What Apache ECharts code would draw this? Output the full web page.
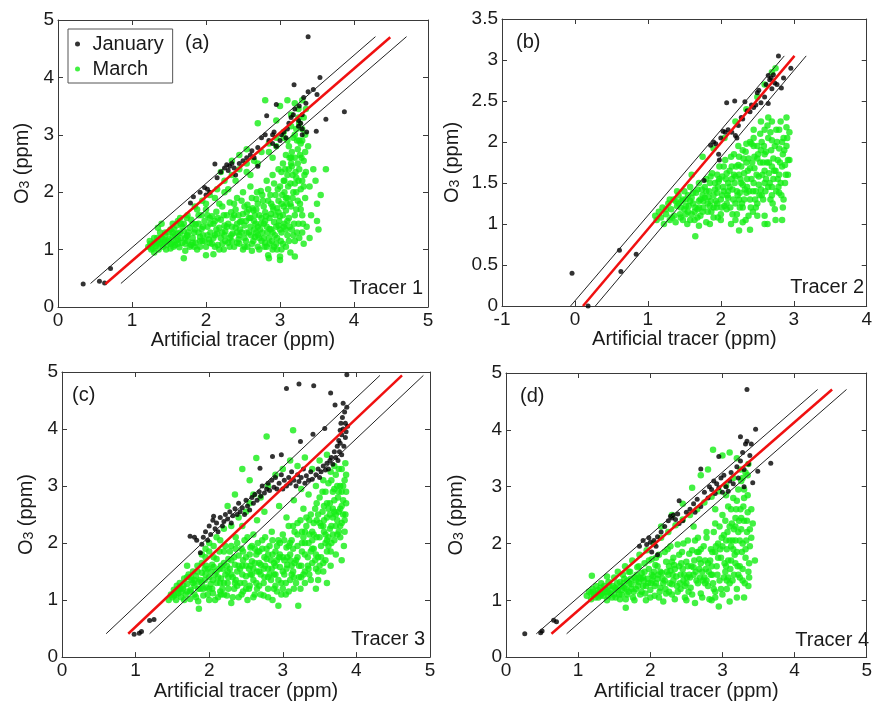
<!DOCTYPE html>
<html>
<head>
<meta charset="UTF-8">
<script type="text/javascript" src="https://cdn.jsdelivr.net/npm/echarts@6/dist/echarts.min.js"></script>
<title></title>
<style>
  body { margin: 0; background: #fff; }
  #graph { width: 875px; height: 702px; }
</style>
</head>
<body>
<div id="graph"></div>
<script>
// panel (a), tracer 1
var janA = [[0.34,0.4],[0.56,0.45],[0.63,0.42],[0.71,0.67],[1.79,1.81],[1.83,1.92],[1.92,2.0],[1.98,2.08],[2.0,1.95],[2.02,2.05],[2.05,2.0],
  [2.12,2.49],[2.15,2.25],[2.2,2.35],[2.25,2.42],[2.28,2.48],[2.3,2.38],[2.32,2.45],[2.35,2.5],[2.38,2.42],[2.4,2.3],[2.45,2.5],[2.5,2.55],
  [2.55,2.6],[2.6,2.65],[2.62,2.72],[2.65,2.6],[2.7,2.78],[2.7,2.45],[2.75,2.95],[2.8,3.0],[2.82,3.33],[2.85,2.9],[2.9,2.85],[2.9,3.0],[2.92,3.05],
  [2.95,2.8],[2.95,3.53],[3.0,2.9],[3.02,3.0],[3.05,3.05],[3.08,2.95],[3.1,3.1],[3.12,3.2],[3.15,3.3],[3.18,3.35],[3.19,3.87],[3.2,3.45],
  [3.25,3.25],[3.25,3.15],[3.26,3.5],[3.28,3.2],[3.3,3.35],[3.3,3.1],[3.3,3.0],[3.32,3.65],[3.35,3.55],[3.36,3.05],[3.38,3.75],[3.38,4.71],
  [3.45,3.79],[3.49,3.06],[3.5,3.7],[3.54,4.0],[3.62,3.27],[3.87,3.4]];
var marA = [[1.22,1.05],[1.25,1.1],[1.28,1.02],[1.3,1.12],[1.3,0.95],[1.32,1.06],[1.35,1.15],[1.35,1.38],[1.36,1.0],[1.38,1.1],[1.4,1.2],[1.4,1.45],
  [1.42,1.05],[1.44,1.14],[1.45,1.25],[1.47,1.08],[1.5,1.18],[1.5,1.3],[1.52,1.02],[1.54,1.12],[1.55,1.22],[1.55,1.45],[1.57,1.35],[1.58,1.08],
  [1.6,1.16],[1.6,1.42],[1.62,1.28],[1.64,1.04],[1.65,1.55],[1.66,1.2],[1.68,1.12],[1.7,1.32],[1.7,1.45],[1.7,0.85],[1.72,0.98],[1.74,1.24],
  [1.75,1.15],[1.75,1.6],[1.78,1.38],[1.8,1.08],[1.8,1.52],[1.82,1.2],[1.84,1.3],[1.85,1.75],[1.86,1.44],[1.88,1.0],[1.9,1.6],[1.92,1.15],
  [1.94,1.36],[1.95,1.85],[1.96,1.25],[1.98,1.5],[2.0,1.05],[2.0,1.7],[2.0,0.9],[2.02,1.4],[2.04,1.18],[2.05,1.95],[2.06,1.3],[2.08,1.58],
  [2.1,0.92],[2.1,1.45],[2.12,1.25],[2.14,1.66],[2.15,2.05],[2.16,1.08],[2.18,1.38],[2.2,1.52],[2.2,1.2],[2.2,2.35],[2.22,1.75],[2.24,1.0],
  [2.25,2.2],[2.26,1.32],[2.28,1.6],[2.3,1.45],[2.3,1.12],[2.3,2.05],[2.32,1.82],[2.34,1.25],[2.35,2.3],[2.35,2.55],[2.36,1.55],[2.38,1.05],
  [2.4,1.38],[2.4,1.7],[2.42,1.9],[2.44,1.18],[2.45,2.4],[2.45,2.65],[2.46,1.48],[2.48,1.3],[2.5,1.62],[2.5,1.0],[2.5,2.0],[2.52,1.42],
  [2.54,1.15],[2.55,2.5],[2.55,2.75],[2.56,1.78],[2.58,1.3],[2.6,1.55],[2.6,2.1],[2.6,2.3],[2.62,0.98],[2.64,1.68],[2.65,2.55],[2.66,1.22],
  [2.68,1.88],[2.7,1.4],[2.7,1.05],[2.7,3.2],[2.72,1.6],[2.74,2.02],[2.75,2.7],[2.76,1.3],[2.78,1.75],[2.8,1.12],[2.8,1.5],[2.8,3.6],
  [2.82,2.2],[2.84,0.9],[2.84,1.85],[2.85,2.85],[2.85,0.85],[2.86,1.36],[2.88,1.62],[2.9,1.0],[2.9,2.3],[2.9,2.6],[2.92,1.48],[2.94,1.95],
  [2.95,2.95],[2.95,3.25],[2.96,1.2],[2.96,1.72],[2.98,2.4],[3.0,0.88],[3.0,1.35],[3.0,1.58],[3.0,2.1],[3.0,3.5],[3.0,0.82],[3.02,1.8],
  [3.04,1.1],[3.04,2.5],[3.05,3.05],[3.06,1.45],[3.06,2.0],[3.08,1.68],[3.08,2.65],[3.1,1.25],[3.1,1.9],[3.1,2.3],[3.1,2.9],[3.1,3.6],
  [3.12,1.55],[3.12,2.8],[3.14,0.95],[3.14,2.15],[3.15,1.75],[3.15,3.15],[3.16,2.45],[3.16,1.35],[3.18,2.0],[3.18,2.95],[3.2,1.6],[3.2,2.6],
  [3.2,1.15],[3.2,0.88],[3.2,3.55],[3.22,2.25],[3.22,3.1],[3.24,1.85],[3.24,2.75],[3.25,1.45],[3.25,3.3],[3.26,2.4],[3.26,3.2],[3.28,2.05],
  [3.28,1.7],[3.3,2.9],[3.3,2.2],[3.3,1.3],[3.3,3.6],[3.32,2.55],[3.32,3.3],[3.34,1.9],[3.35,2.35],[3.35,3.45],[3.38,2.8],[3.4,2.1],
  [3.4,1.2],[3.42,1.6],[3.45,2.4],[3.48,2.2],[3.5,1.8],[3.5,1.5],[3.52,1.35],[3.55,1.95],[3.62,2.4],[1.9,1.3],[2.12,1.5],[2.35,1.4],
  [2.55,1.65],[2.75,1.55],[2.9,1.75],[3.05,2.2],[3.15,2.6],[3.22,2.0],[3.08,1.35],[2.95,1.1],[2.65,1.5],[2.45,1.25],[2.25,1.42],[2.05,1.55],
  [1.58,1.25],[1.62,1.1],[1.68,1.4],[1.72,1.2],[1.78,1.05],[1.82,1.45],[1.86,1.12],[1.9,1.45],[1.92,1.05],[1.96,1.4],[1.98,1.15],[2.02,1.6],
  [2.06,1.45],[2.08,1.1],[2.14,1.35],[2.16,1.55],[2.18,1.0],[2.22,1.3],[2.24,1.6],[2.26,1.15],[2.28,1.4],[2.32,1.05],[2.34,1.65],[2.36,1.28],
  [2.38,1.8],[2.42,1.12],[2.44,1.6],[2.46,1.35],[2.48,1.85],[2.52,1.2],[2.54,1.5],[2.56,1.05],[2.58,1.7],[2.6,1.4],[2.62,1.9],[2.64,1.15],
  [2.66,1.6],[2.68,1.3],[2.7,1.8],[2.72,1.0],[2.74,1.45],[2.76,1.95],[2.78,1.2],[2.8,1.65],[2.82,1.4],[2.84,2.05],[2.86,1.1],[2.88,1.8],
  [2.9,1.3],[2.92,2.15],[2.94,1.6],[2.96,1.0],[2.98,1.85],[3.02,1.3],[3.02,2.35],[3.04,1.6],[3.06,2.2],[3.08,1.05],[3.1,1.5],[3.12,2.4],
  [3.14,1.8],[3.16,2.7],[3.18,1.25],[3.2,2.15],[3.22,1.7],[3.24,2.5],[3.26,1.2],[3.28,2.85],[3.3,1.6],[3.32,2.1],[3.34,2.7],[3.36,1.4],
  [3.34,3.0],[3.3,3.1],[3.26,2.9],[3.2,3.0],[3.32,1.1],[3.12,1.15],[2.98,1.42],[2.86,1.55],[2.7,1.25],[2.52,1.75],[2.42,1.45],[2.18,1.8],
  [2.1,1.2],[1.94,1.6],[1.84,1.05],[1.76,1.3],[1.66,1.45],[1.56,1.05],[1.46,1.0],[1.4,1.1],[1.34,1.2],[1.26,1.0],[1.33,1.1],[1.48,1.15],
  [1.52,1.35],[1.62,1.5],[1.74,1.55],[1.88,1.7],[2.0,1.8],[2.12,1.9],[2.25,2.0],[2.4,2.2],[2.55,2.35],[2.7,2.5],[2.85,2.7],[2.95,2.8],
  [3.05,2.95],[3.15,3.35],[3.25,3.45],
  [2.61,1.25],[2.63,1.72],[2.67,1.45],[2.69,2.0],[2.73,1.35],[2.77,1.85],[2.79,1.05],[2.81,1.58],[2.83,1.3],[2.87,1.95],[2.89,1.15],
  [2.91,1.7],[2.93,1.25],[2.97,2.05],[2.99,1.5],[3.01,1.15],[3.03,1.95],[3.05,1.4],[3.07,2.4],[3.09,1.8],[3.11,2.1],[3.13,1.4],[3.15,2.5],
  [3.17,1.9],[3.19,1.45],[3.21,2.35],[3.23,1.3],[3.25,2.2],[3.27,1.8],[3.29,2.6],[3.31,1.45],[3.33,2.3],[3.27,2.65],[3.23,2.9],[3.17,2.3],
  [3.13,2.6],[3.05,1.75],[2.95,1.4],[2.85,1.2],[2.75,1.15],[2.65,1.35],[2.55,1.3],[2.45,1.1],[2.35,1.15],[2.25,1.25],[2.15,1.28],[2.05,1.12],
  [1.95,1.15],[1.85,1.35],[1.75,1.25],[1.65,1.3],[1.55,1.3],[1.45,1.3],[1.38,1.3],[1.3,1.2],[1.24,1.15],[1.42,1.18],[1.52,1.1],[1.62,1.18],
  [1.72,1.1],[1.82,1.12],[1.92,1.22],[2.02,1.25],[2.12,1.05],[2.22,1.1],[2.32,1.2],[2.42,1.3],[2.52,1.05],[2.62,1.1],[2.72,1.2],[2.82,1.05],
  [2.92,1.05],[3.02,1.0],[2.48,1.5],[2.38,1.6],[2.58,1.55],[2.68,1.7],[2.78,1.45],[2.88,1.35],[2.98,1.65],[3.08,1.9]];
var fitA = [[0.64,0.4],[4.49,4.7]];
var upA = [[0.44,0.41],[4.29,4.71]];
var lowA = [[0.85,0.41],[4.71,4.71]];

// panel (b), tracer 2
var janB = [[-0.04,0.4],[0.18,0.0],[0.61,0.68],[0.63,0.42],[0.84,0.63],[1.77,1.53],[1.86,1.96],[1.9,2.0],[1.93,1.98],[1.97,1.85],[1.98,1.78],
  [2.0,2.05],[2.03,2.13],[2.06,2.12],[2.08,2.48],[2.1,2.15],[2.15,2.12],[2.19,2.5],[2.2,2.08],[2.22,2.05],[2.24,2.2],[2.28,2.3],[2.3,2.28],
  [2.33,2.49],[2.36,2.38],[2.4,2.37],[2.42,2.45],[2.45,2.42],[2.48,2.45],[2.5,2.6],[2.52,2.63],[2.55,2.48],[2.6,2.55],[2.62,2.7],[2.65,2.81],
  [2.65,2.47],[2.67,2.76],[2.69,2.78],[2.7,2.65],[2.72,2.82],[2.74,2.72],[2.77,2.7],[2.79,3.05],[2.83,2.66],[2.86,2.78],[2.96,2.9]];
var marB = [[1.1,1.1],[1.12,1.05],[1.15,1.15],[1.18,1.08],[1.2,1.2],[1.22,1.0],[1.25,1.12],[1.28,1.25],[1.3,1.05],[1.3,1.3],[1.32,1.18],
  [1.35,1.3],[1.36,1.1],[1.38,1.02],[1.4,1.22],[1.4,1.4],[1.42,1.35],[1.44,1.12],[1.45,1.2],[1.46,1.28],[1.48,1.05],[1.5,1.4],[1.5,1.18],
  [1.52,1.3],[1.54,1.0],[1.55,1.15],[1.56,1.22],[1.58,1.45],[1.6,1.12],[1.6,1.32],[1.6,1.6],[1.62,1.25],[1.64,1.05],[1.65,1.2],[1.65,0.85],
  [1.66,1.38],[1.68,1.18],[1.7,1.5],[1.7,1.28],[1.72,1.1],[1.74,1.42],[1.75,1.35],[1.75,1.82],[1.76,1.2],[1.78,1.32],[1.8,1.02],[1.8,1.55],
  [1.82,1.15],[1.84,1.4],[1.85,1.5],[1.86,1.28],[1.88,1.62],[1.9,1.08],[1.9,1.35],[1.9,1.92],[1.92,1.5],[1.94,1.2],[1.95,1.6],[1.96,1.45],
  [1.98,1.7],[2.0,1.3],[2.0,1.05],[2.02,1.58],[2.04,1.4],[2.05,1.22],[2.05,2.05],[2.06,1.78],[2.08,1.18],[2.1,1.5],[2.1,1.32],[2.1,1.4],
  [2.12,1.65],[2.14,1.0],[2.15,1.7],[2.15,1.55],[2.16,1.42],[2.18,1.85],[2.2,1.25],[2.2,1.58],[2.2,2.25],[2.22,1.12],[2.24,1.72],[2.25,1.3],
  [2.25,0.92],[2.26,1.38],[2.28,1.5],[2.3,1.9],[2.3,1.2],[2.3,1.48],[2.32,1.62],[2.34,1.05],[2.35,1.75],[2.35,1.38],[2.35,2.4],[2.36,1.45],
  [2.38,1.8],[2.4,1.3],[2.4,2.0],[2.4,0.93],[2.42,1.55],[2.44,1.15],[2.45,1.5],[2.45,2.15],[2.46,1.68],[2.48,1.4],[2.5,1.95],[2.5,1.25],
  [2.5,1.8],[2.5,2.55],[2.52,1.58],[2.54,2.1],[2.55,1.9],[2.55,1.42],[2.55,2.25],[2.56,1.35],[2.58,1.75],[2.6,1.5],[2.6,1.1],[2.6,1.65],
  [2.6,2.7],[2.62,1.88],[2.64,2.2],[2.65,1.45],[2.65,2.3],[2.66,1.62],[2.68,1.3],[2.7,2.02],[2.7,1.45],[2.7,1.7],[2.7,2.85],[2.72,1.8],
  [2.74,1.18],[2.75,1.65],[2.75,1.05],[2.75,2.9],[2.76,2.15],[2.78,1.55],[2.8,1.92],[2.8,1.38],[2.8,1.6],[2.82,2.25],[2.84,1.7],[2.85,1.85],
  [2.85,1.2],[2.86,2.05],[2.88,1.5],[2.9,2.3],[2.9,1.95],[2.92,1.78],[2.94,2.12],[2.94,1.78],[1.95,1.25],[2.45,1.95],[2.65,2.05],[2.25,1.6],
  [1.25,1.18],[1.33,1.08],[1.38,1.28],[1.45,1.08],[1.52,1.22],[1.58,1.05],[1.62,1.38],[1.68,1.08],[1.72,1.3],[1.78,1.45],[1.82,1.25],
  [1.86,1.58],[1.9,1.2],[1.92,1.42],[1.96,1.08],[1.98,1.55],[2.02,1.35],[2.04,1.7],[2.08,1.25],[2.12,1.45],[2.14,1.82],[2.16,1.12],
  [2.18,1.6],[2.22,1.4],[2.24,1.95],[2.26,1.2],[2.28,1.7],[2.32,1.3],[2.34,1.88],[2.36,1.55],[2.38,1.1],[2.4,1.68],[2.42,1.98],[2.44,1.4],
  [2.46,1.82],[2.48,1.2],[2.52,1.48],[2.54,1.75],[2.56,2.0],[2.58,1.3],[2.6,1.85],[2.62,1.55],[2.64,1.0],[2.66,1.75],[2.68,2.12],[2.7,1.35],
  [2.72,1.55],[2.74,1.95],[2.76,1.4],[2.78,1.78],[2.82,1.5],[2.84,2.0],[2.86,1.3],[2.88,1.72],[2.9,2.18],[2.92,1.6],[2.84,1.05],[2.6,1.0],
  [2.5,1.1],[2.3,1.02],[2.2,1.05],[2.0,1.12],[1.85,1.0],[1.7,0.98],[2.8,2.15],[2.7,2.25],[2.6,2.15],[2.45,2.05],[2.35,1.98],[2.25,1.82],
  [2.08,1.62],[1.95,1.38],[1.85,1.22],[1.75,1.15],
  [1.83,1.33],[1.87,1.15],[1.93,1.28],[1.97,1.52],[2.01,1.2],[2.03,1.45],[2.07,1.55],[2.09,1.35],[2.13,1.2],[2.17,1.3],[2.19,1.5],
  [2.21,1.7],[2.23,1.35],[2.27,1.55],[2.29,1.25],[2.31,1.8],[2.33,1.42],[2.37,1.65],[2.39,1.4],[2.41,1.2],[2.43,1.75],[2.47,1.3],
  [2.49,1.6],[2.51,1.85],[2.53,1.35],[2.57,1.6],[2.59,1.95],[2.61,1.4],[2.63,1.75],[2.67,1.5],[2.69,1.9],[2.71,1.25],[2.73,1.65],
  [2.77,2.0],[2.79,1.45],[2.81,1.75],[2.83,1.35],[2.87,1.9],[2.89,1.6],[2.91,2.05],[1.52,1.12],[1.58,1.28],[1.64,1.15],[1.7,1.2],
  [1.76,1.28],[1.8,1.4],[1.68,1.42],[1.55,1.35],[1.48,1.3],[1.42,1.25]];
var fitB = [[0.11,0],[3.01,3.05]];
var upB = [[-0.06,0],[2.87,3.05]];
var lowB = [[0.28,0],[3.17,3.05]];

// panel (c), tracer 3
var janC = [[0.98,0.4],[1.05,0.42],[1.08,0.45],[1.19,0.64],[1.25,0.66],[1.74,2.12],[1.8,2.1],[1.83,2.05],[1.88,1.83],[1.9,1.98],[1.92,2.1],
  [1.95,2.2],[1.98,2.05],[2.0,2.3],[2.02,2.15],[2.05,2.4],[2.06,2.47],[2.08,2.25],[2.1,2.35],[2.12,2.2],[2.15,2.45],[2.18,2.3],[2.2,2.38],
  [2.22,2.5],[2.25,2.42],[2.28,2.55],[2.3,2.35],[2.32,2.48],[2.35,2.6],[2.38,2.5],[2.4,2.7],[2.42,2.55],[2.45,2.62],[2.48,2.5],[2.5,2.75],
  [2.52,2.65],[2.55,2.58],[2.58,2.8],[2.6,2.7],[2.62,2.85],[2.65,2.75],[2.68,2.9],[2.69,3.31],[2.7,2.82],[2.72,3.0],[2.75,2.88],[2.78,2.95],
  [2.8,3.05],[2.82,2.92],[2.85,3.1],[2.86,3.52],[2.88,2.98],[2.9,3.15],[2.92,2.95],[2.95,3.05],[2.98,3.55],[2.98,3.2],[3.0,2.95],[3.02,3.1],
  [3.05,3.0],[3.05,4.71],[3.08,3.15],[3.1,3.05],[3.12,3.25],[3.15,3.1],[3.18,3.0],[3.2,3.2],[3.22,3.08],[3.22,4.79],[3.24,3.78],[3.25,3.15],
  [3.28,3.3],[3.3,3.05],[3.32,3.18],[3.35,3.1],[3.38,3.25],[3.4,3.12],[3.41,3.91],[3.42,4.76],[3.45,3.2],[3.48,3.3],[3.5,3.15],[3.52,3.25],
  [3.55,3.35],[3.57,4.01],[3.58,3.28],[3.6,3.4],[3.62,3.3],[3.64,3.45],[3.65,4.63],[3.66,3.5],[3.68,3.38],[3.7,3.6],[3.71,4.42],[3.72,3.5],
  [3.74,3.7],[3.75,3.45],[3.76,3.8],[3.77,3.6],[3.78,3.98],[3.78,3.75],[3.79,4.1],[3.8,3.55],[3.8,3.9],[3.81,4.2],[3.82,4.0],[3.82,4.45],
  [3.83,3.7],[3.84,4.3],[3.85,3.85],[3.85,4.1],[3.86,3.95],[3.87,4.95],[3.87,4.38],[3.88,4.05]];
var marC = [[1.45,1.0],[1.48,1.1],[1.5,1.05],[1.52,1.18],[1.55,1.0],[1.56,1.25],[1.58,1.12],[1.6,1.3],[1.62,1.05],[1.64,1.2],[1.66,1.38],
  [1.68,1.1],[1.7,1.28],[1.72,1.45],[1.74,1.02],[1.75,1.18],[1.76,1.35],[1.78,1.5],[1.8,1.1],[1.8,1.25],[1.82,1.42],[1.84,1.6],[1.85,0.98],
  [1.86,1.32],[1.86,0.85],[1.88,1.2],[1.9,1.48],[1.9,1.65],[1.92,1.08],[1.94,1.35],[1.95,1.75],[1.95,1.9],[1.96,1.22],[1.98,1.55],[2.0,1.0],
  [2.0,1.4],[2.0,1.85],[2.0,2.0],[2.02,1.28],[2.04,1.62],[2.05,1.12],[2.06,1.95],[2.08,1.45],[2.1,1.3],[2.1,1.72],[2.1,2.1],[2.12,1.05],
  [2.14,1.55],[2.15,2.05],[2.16,1.38],[2.18,1.2],[2.2,1.65],[2.2,1.85],[2.2,2.25],[2.22,1.45],[2.24,1.08],[2.25,1.3],[2.25,2.65],[2.26,1.72],
  [2.28,1.55],[2.3,0.95],[2.3,1.95],[2.3,2.3],[2.32,1.4],[2.34,1.2],[2.35,1.62],[2.35,2.85],[2.36,2.1],[2.38,1.5],[2.4,1.05],[2.4,1.78],
  [2.4,2.45],[2.42,1.3],[2.44,1.9],[2.45,1.6],[2.45,3.3],[2.45,2.3],[2.46,1.15],[2.48,2.05],[2.5,1.42],[2.5,1.75],[2.5,2.55],[2.52,1.0],
  [2.54,1.55],[2.55,1.25],[2.55,2.7],[2.55,3.1],[2.56,1.92],[2.58,1.68],[2.6,1.35],[2.6,2.15],[2.6,2.85],[2.62,1.1],[2.64,1.8],[2.64,3.49],
  [2.65,1.5],[2.65,2.4],[2.66,2.0],[2.68,1.25],[2.7,1.62],[2.7,2.8],[2.72,1.9],[2.74,1.08],[2.75,1.4],[2.75,2.55],[2.76,2.1],[2.78,1.72],
  [2.78,3.87],[2.8,1.2],[2.8,1.55],[2.8,3.0],[2.82,1.95],[2.84,1.35],[2.85,2.2],[2.86,1.0],[2.88,1.65],[2.9,1.45],[2.9,1.85],[2.9,3.2],
  [2.92,1.15],[2.94,0.9],[2.94,2.05],[2.95,2.65],[2.96,1.58],[2.98,1.3],[3.0,1.75],[3.0,2.15],[3.0,3.3],[3.02,1.45],[3.04,1.1],[3.05,1.92],
  [3.06,1.62],[3.08,2.3],[3.1,1.35],[3.1,1.8],[3.1,3.45],[3.12,2.05],[3.14,1.5],[3.14,3.98],[3.15,1.2],[3.15,2.75],[3.16,2.2],[3.18,1.7],
  [3.2,1.95],[3.2,3.35],[3.21,0.9],[3.22,1.4],[3.24,2.4],[3.25,1.6],[3.25,2.95],[3.26,1.85],[3.28,2.1],[3.3,1.3],[3.3,1.5],[3.3,3.5],
  [3.32,2.3],[3.34,1.75],[3.35,2.0],[3.35,2.85],[3.36,1.45],[3.38,2.5],[3.4,1.65],[3.4,2.2],[3.4,3.3],[3.42,1.9],[3.44,2.6],[3.45,1.55],
  [3.45,3.0],[3.45,1.2],[3.46,2.1],[3.48,1.75],[3.5,2.35],[3.5,2.8],[3.5,3.45],[3.52,1.95],[3.54,2.55],[3.55,1.65],[3.55,3.1],[3.56,2.2],
  [3.58,2.9],[3.6,1.85],[3.6,2.45],[3.6,1.3],[3.6,3.55],[3.62,2.1],[3.62,3.05],[3.64,2.7],[3.65,1.6],[3.65,3.25],[3.66,2.3],[3.68,2.9],
  [3.7,2.05],[3.7,2.55],[3.72,3.2],[3.72,1.8],[3.74,2.4],[3.75,2.8],[3.76,2.2],[3.78,3.0],[3.78,2.6],[3.8,3.3],[3.8,2.35],[3.8,1.7],
  [3.82,2.75],[3.83,1.95],[3.84,3.1],[3.85,2.5],[3.85,3.4],[3.86,2.9],[1.7,1.6],[1.9,1.8],[2.38,1.25],[2.58,1.45],[2.88,1.45],[3.12,1.6],
  [3.38,1.85],[3.58,2.0],[3.68,2.45],[2.15,1.15],[2.68,1.85],[3.05,2.45],[3.28,2.6],[3.48,2.5],
  [1.52,1.08],[1.58,1.2],[1.62,1.15],[1.66,1.0],[1.7,1.4],[1.74,1.15],[1.78,1.3],[1.82,1.05],[1.84,1.5],[1.88,1.35],[1.92,1.2],[1.94,1.55],
  [1.98,1.1],[2.02,1.5],[2.04,1.2],[2.06,1.75],[2.08,1.0],[2.12,1.4],[2.14,1.85],[2.16,1.1],[2.18,1.55],[2.2,1.3],[2.22,1.95],[2.24,1.6],
  [2.26,1.2],[2.28,1.85],[2.3,1.45],[2.32,1.05],[2.34,1.75],[2.36,1.35],[2.38,2.0],[2.42,1.55],[2.44,1.1],[2.46,1.85],[2.48,1.3],[2.5,1.6],
  [2.52,2.1],[2.54,1.2],[2.56,1.45],[2.58,1.95],[2.6,1.05],[2.62,1.65],[2.64,1.3],[2.66,1.85],[2.68,1.5],[2.7,1.1],[2.72,2.05],[2.74,1.3],
  [2.76,1.6],[2.78,1.9],[2.8,1.05],[2.82,1.45],[2.84,1.7],[2.86,2.05],[2.88,1.2],[2.9,1.6],[2.92,1.95],[2.94,1.35],[2.96,1.8],[2.98,1.1],
  [3.0,1.5],[3.02,2.05],[3.04,1.3],[3.06,1.75],[3.08,1.15],[3.1,2.0],[3.12,1.45],[3.14,2.3],[3.16,1.65],[3.18,1.3],[3.2,2.15],[3.22,1.6],
  [3.24,1.2],[3.26,2.0],[3.28,1.45],[3.3,1.8],[3.32,2.45],[3.34,1.6],[3.36,2.15],[3.38,1.35],[3.4,1.9],[3.42,2.35],[3.44,1.7],[3.46,2.7],
  [3.48,1.5],[3.5,2.1],[3.52,1.75],[3.54,2.9],[3.56,2.4],[3.58,1.7],[3.6,2.7],[3.62,1.95],[3.64,2.5],[3.66,3.1],[3.68,2.15],[3.7,2.75],
  [3.72,2.3],[3.74,3.0],[3.76,2.55],[3.78,2.1],[3.8,2.9],[3.82,2.5],[3.84,2.2],[3.86,3.2],[3.76,3.3],[3.7,3.35],[3.65,1.85],[3.55,1.5],
  [3.48,1.35],[3.58,2.15],
  [1.55,1.1],[1.6,1.2],[1.65,1.25],[1.7,1.15],[1.75,1.4],[1.8,1.35],[1.85,1.2],[1.9,1.3],[1.95,1.45],[2.0,1.2],[2.05,1.35],[2.1,1.5],
  [2.15,1.3],[2.2,1.1],[2.25,1.5],[2.3,1.7],[2.35,1.3],[2.4,1.6],[2.45,1.45],[2.5,1.2],[2.55,1.8],[2.6,1.55],[2.65,1.2],[2.7,1.45],
  [2.75,1.75],[2.8,1.4],[2.85,1.55],[2.9,1.25],[2.95,1.75],[3.0,1.2],[3.05,1.55],[3.1,1.7],[3.15,1.4],[3.2,1.75],[3.25,1.4],[3.3,2.0],
  [3.35,1.55],[3.4,2.05],[3.45,1.8],[3.5,1.6],[3.55,2.3],[3.6,2.05],[3.62,2.6],[3.66,2.0],[3.68,2.6],[3.7,2.95],[3.72,2.5],[3.74,2.15],
  [3.76,2.9],[3.78,2.3],[3.8,2.65],[3.82,3.0],[3.84,2.4],[3.86,2.7],[3.64,2.25],[3.56,2.65],[3.52,2.3],[3.46,2.4],[3.42,2.15],[3.36,2.4],
  [3.3,2.2],[3.26,2.2],[3.2,2.35],[3.14,1.9],[3.08,1.95],[3.02,1.7],[2.96,2.0],[2.92,1.7],[2.86,1.8],[2.8,1.8],[2.74,1.55],[2.68,1.65],
  [2.62,1.9],[2.56,1.6],[2.46,1.7],[2.36,1.9],[2.26,1.4],[2.16,1.6],[2.06,1.58],[1.96,1.6]];
var fitC = [[0.9,0.41],[4.62,4.94]];
var upC = [[0.6,0.41],[4.32,4.94]];
var lowC = [[1.19,0.41],[4.91,4.94]];

// panel (d), tracer 4
var janD = [[0.26,0.41],[0.48,0.43],[0.5,0.46],[0.66,0.65],[0.7,0.62],[1.85,1.95],[1.9,2.05],[1.95,1.98],[1.98,2.1],[2.0,2.02],[2.02,1.85],
  [2.05,2.05],[2.08,1.95],[2.1,2.12],[2.1,1.8],[2.15,2.2],[2.2,2.3],[2.25,2.4],[2.28,2.48],[2.3,2.45],[2.32,2.5],[2.35,2.42],[2.38,2.52],
  [2.4,2.35],[2.4,2.75],[2.45,2.4],[2.5,2.55],[2.55,2.6],[2.6,2.7],[2.62,2.55],[2.65,2.78],[2.7,2.65],[2.7,3.31],[2.75,2.9],[2.8,2.8],
  [2.82,3.0],[2.85,2.95],[2.88,3.1],[2.9,2.88],[2.92,3.05],[2.95,3.53],[2.95,2.98],[2.98,3.15],[3.0,2.9],[3.02,3.2],[3.05,3.0],[3.08,2.92],
  [3.1,3.1],[3.12,3.25],[3.15,3.05],[3.2,3.35],[3.22,3.15],[3.25,3.88],[3.25,3.45],[3.28,3.6],[3.3,3.3],[3.3,3.0],[3.32,3.75],[3.34,3.8],
  [3.34,4.71],[3.36,3.4],[3.38,3.55],[3.4,3.75],[3.42,3.07],[3.46,4.01],[3.49,3.27],[3.67,3.41]];
var marD = [[1.12,1.08],[1.15,1.15],[1.18,1.02],[1.19,1.43],[1.2,1.2],[1.22,1.1],[1.25,1.25],[1.28,1.05],[1.3,1.15],[1.32,1.3],[1.35,1.08],
  [1.38,1.2],[1.4,1.0],[1.4,1.42],[1.42,1.32],[1.45,1.12],[1.48,1.25],[1.5,1.4],[1.52,1.05],[1.55,1.18],[1.55,1.5],[1.58,1.32],[1.6,1.1],
  [1.62,1.45],[1.64,1.22],[1.65,1.6],[1.66,0.87],[1.66,1.02],[1.68,1.35],[1.7,1.15],[1.72,1.5],[1.74,1.28],[1.75,1.7],[1.76,1.05],[1.78,1.4],
  [1.8,1.2],[1.82,1.58],[1.84,1.32],[1.85,1.8],[1.86,1.1],[1.88,1.48],[1.9,1.25],[1.92,1.65],[1.94,1.0],[1.95,1.88],[1.96,1.38],[1.98,1.55],
  [2.0,1.18],[2.02,1.72],[2.04,1.42],[2.05,2.0],[2.06,1.08],[2.08,1.3],[2.1,1.6],[2.12,1.8],[2.14,1.22],[2.15,2.1],[2.15,2.3],[2.16,1.48],
  [2.18,0.98],[2.2,1.35],[2.22,1.68],[2.24,1.9],[2.25,2.2],[2.26,1.15],[2.28,1.52],[2.3,1.28],[2.3,2.5],[2.32,1.75],[2.34,1.02],[2.35,2.32],
  [2.36,1.42],[2.38,1.98],[2.4,1.6],[2.42,1.2],[2.44,1.85],[2.45,2.42],[2.45,2.7],[2.46,1.35],[2.48,1.05],[2.5,1.68],[2.52,2.05],[2.54,1.45],
  [2.55,2.5],[2.56,1.22],[2.58,1.88],[2.58,2.98],[2.6,1.58],[2.6,2.3],[2.62,0.95],[2.64,1.35],[2.65,2.6],[2.66,2.1],[2.68,1.72],[2.7,1.12],
  [2.7,3.2],[2.72,1.5],[2.74,1.95],[2.75,2.72],[2.76,1.3],[2.78,2.2],[2.8,1.65],[2.8,3.3],[2.82,1.02],[2.84,1.45],[2.85,2.82],[2.86,1.85],
  [2.87,3.65],[2.88,1.2],[2.9,2.35],[2.9,2.6],[2.92,1.6],[2.94,2.0],[2.95,0.89],[2.95,2.92],[2.96,1.35],[2.98,1.75],[3.0,2.5],[3.0,1.1],
  [3.0,3.55],[3.02,2.15],[3.04,1.5],[3.05,3.02],[3.05,2.85],[3.06,1.9],[3.08,2.65],[3.1,1.3],[3.1,2.3],[3.1,3.6],[3.12,1.7],[3.14,2.05],
  [3.15,2.8],[3.15,3.15],[3.16,1.45],[3.18,2.45],[3.2,1.2],[3.2,1.85],[3.2,3.5],[3.22,2.95],[3.22,2.2],[3.24,1.6],[3.25,2.6],[3.25,3.3],
  [3.26,3.1],[3.28,2.0],[3.28,1.35],[3.3,2.4],[3.3,2.8],[3.3,1.05],[3.32,3.25],[3.32,1.75],[3.34,2.2],[3.35,2.55],[3.36,1.5],[3.36,3.4],
  [3.37,1.4],[3.38,1.95],[3.4,2.1],[3.4,2.6],[3.42,2.35],[3.45,1.7],[1.85,1.4],[2.05,1.5],[2.25,1.45],[2.45,1.55],[2.65,1.85],[2.85,1.6],
  [3.05,2.05],[3.18,2.3],[3.08,1.4],[2.75,1.4],[2.5,1.3],[2.3,1.1],[2.9,1.15],
  [1.18,1.12],[1.24,1.05],[1.28,1.18],[1.33,1.12],[1.36,1.25],[1.42,1.08],[1.46,1.18],[1.5,1.1],[1.54,1.3],[1.58,1.02],[1.6,1.25],[1.64,1.38],
  [1.68,1.1],[1.7,1.5],[1.74,1.2],[1.78,1.0],[1.8,1.35],[1.84,1.6],[1.88,1.15],[1.9,1.4],[1.94,1.25],[1.98,1.7],[2.0,1.05],[2.02,1.45],
  [2.06,1.25],[2.08,1.75],[2.12,1.05],[2.14,1.5],[2.18,1.3],[2.2,1.85],[2.22,1.12],[2.26,1.6],[2.28,1.95],[2.32,1.35],[2.34,1.55],[2.38,1.15],
  [2.4,1.8],[2.42,1.45],[2.46,2.0],[2.48,1.25],[2.52,1.6],[2.54,1.82],[2.58,1.1],[2.6,1.45],[2.62,2.05],[2.66,1.3],[2.68,1.55],[2.7,1.9],
  [2.72,1.05],[2.76,1.7],[2.78,2.1],[2.8,1.25],[2.84,1.9],[2.86,1.45],[2.88,2.2],[2.9,1.05],[2.94,1.75],[2.96,2.3],[2.98,1.2],[3.0,1.95],
  [3.02,1.4],[3.04,2.4],[3.06,1.2],[3.08,1.7],[3.1,2.05],[3.12,2.6],[3.14,1.35],[3.16,2.25],[3.18,1.65],[3.2,2.75],[3.22,1.45],[3.24,2.05],
  [3.26,2.45],[3.28,1.55],[3.3,2.95],[3.32,1.9],[3.34,2.4],[3.36,1.25],[3.38,2.25],[3.35,3.2],[3.28,3.15],[3.2,1.05],[3.1,0.98],[2.85,1.0],
  [2.5,1.0],[2.7,1.65],[2.9,1.85],[3.05,1.6],[2.3,1.68],[2.1,1.38],[1.92,1.5],[2.55,1.4],[2.78,1.35],[3.15,1.9],
  [1.21,1.15],[1.27,1.12],[1.31,1.22],[1.37,1.15],[1.43,1.25],[1.47,1.05],[1.53,1.2],[1.57,1.1],[1.63,1.3],[1.67,1.2],[1.73,1.38],
  [1.77,1.15],[1.83,1.25],[1.87,1.38],[1.93,1.12],[1.97,1.3],[2.03,1.35],[2.07,1.62],[2.13,1.15],[2.17,1.38],[2.23,1.5],[2.27,1.3],
  [2.33,1.62],[2.37,1.25],[2.43,1.65],[2.47,1.45],[2.53,1.15],[2.57,1.6],[2.63,1.5],[2.67,1.85],[2.73,1.35],[2.77,1.55],[2.83,1.7],
  [2.87,1.3],[2.93,1.45],[2.97,1.9],[3.03,1.65],[3.07,2.2],[3.11,1.55],[3.13,2.35],[3.17,1.8],[3.19,2.6],[3.21,1.6],[3.23,2.4],[3.27,1.85],
  [3.29,2.65],[3.31,1.3],[3.33,2.05],[3.35,2.85],[3.37,1.65],[3.26,2.25],[3.24,1.4],[3.18,2.05],[3.12,1.95],[3.06,1.35],[2.99,2.1],
  [2.91,1.95],[2.81,1.5],[2.69,1.4],[2.61,1.7],[2.51,1.4],[2.41,1.3],[2.31,1.45],[2.21,1.2],[2.11,1.45],[2.01,1.3],[1.91,1.35],[1.81,1.45],
  [1.71,1.3],[1.61,1.18],[1.51,1.22],[1.41,1.15],[1.31,1.08]];
var fitD = [[0.63,0.41],[4.52,4.71]];
var upD = [[0.42,0.41],[4.32,4.71]];
var lowD = [[0.84,0.41],[4.72,4.71]];

var xTicks = [[0,5],[-1,4],[0,5],[0,5]];
var yTicks = [[0,5,1],[0,3.5,0.5],[0,5,1],[0,5,1]];
var panelTags = ['(a)','(b)','(c)','(d)'];
var tracerNames = ['Tracer 1','Tracer 2','Tracer 3','Tracer 4'];

var FONT = '"Liberation Sans", Arial, sans-serif';
var GREEN = '#14ee14';
var grids = [
  {left: 58, top: 20, width: 370, height: 287},
  {left: 502, top: 19, width: 367, height: 287},
  {left: 62, top: 372, width: 368, height: 286},
  {left: 506, top: 373, width: 368, height: 286}
];
var jan = [janA, janB, janC, janD];
var mar = [marA, marB, marC, marD];
var fits = [fitA, fitB, fitC, fitD];
var ups = [upA, upB, upC, upD];
var lows = [lowA, lowB, lowC, lowD];

var axisLine = {show: true, onZero: false, lineStyle: {color: '#3a3a3a', width: 1}};
var tick = {show: true, inside: true, length: 5, lineStyle: {color: '#3a3a3a'}};
var xAxis = [], yAxis = [], series = [], graphic = [];

for (var i = 0; i < 4; i++) {
  var g = grids[i];
  xAxis.push({
    gridIndex: i, type: 'value', min: xTicks[i][0], max: xTicks[i][1], interval: 1,
    position: 'bottom', axisLine: axisLine, axisTick: tick, splitLine: {show: false},
    axisLabel: {fontSize: 19, color: '#1a1a1a', fontFamily: FONT, margin: 4},
    name: 'Artificial tracer (ppm)', nameLocation: 'middle', nameGap: 21,
    nameTextStyle: {fontSize: 20, color: '#1a1a1a', fontFamily: FONT}
  });
  xAxis.push({
    gridIndex: i, type: 'value', min: xTicks[i][0], max: xTicks[i][1], interval: 1,
    position: 'top', axisLine: axisLine, axisTick: tick, splitLine: {show: false}, axisLabel: {show: false}
  });
  yAxis.push({
    gridIndex: i, type: 'value', min: yTicks[i][0], max: yTicks[i][1], interval: yTicks[i][2],
    position: 'left', axisLine: axisLine, axisTick: tick, splitLine: {show: false},
    axisLabel: {fontSize: 19, color: '#1a1a1a', fontFamily: FONT, margin: 4},
    name: '{o|O}{s|3}{o| (ppm)}', nameLocation: 'middle', nameGap: i % 2 ? 40 : 26,
    nameTextStyle: {
      fontFamily: FONT, color: '#1a1a1a',
      rich: {
        o: {fontSize: 20, lineHeight: 20, verticalAlign: 'top', fontFamily: FONT, color: '#1a1a1a'},
        s: {fontSize: 14, lineHeight: 14, padding: [12, 0, 0, 0], verticalAlign: 'bottom', fontFamily: FONT, color: '#1a1a1a'}
      }
    }
  });
  yAxis.push({
    gridIndex: i, type: 'value', min: yTicks[i][0], max: yTicks[i][1], interval: yTicks[i][2],
    position: 'right', axisLine: axisLine, axisTick: tick, splitLine: {show: false}, axisLabel: {show: false}
  });

  series.push({
    name: 'March', type: 'scatter', xAxisIndex: 2 * i, yAxisIndex: 2 * i,
    data: mar[i], symbolSize: 6.5, itemStyle: {color: GREEN}
  });
  series.push({
    name: 'January', type: 'scatter', xAxisIndex: 2 * i, yAxisIndex: 2 * i,
    data: jan[i], symbolSize: 5, itemStyle: {color: '#000'}
  });
  series.push({
    type: 'line', xAxisIndex: 2 * i, yAxisIndex: 2 * i, data: ups[i], symbol: 'none',
    lineStyle: {color: '#222', width: 1}
  });
  series.push({
    type: 'line', xAxisIndex: 2 * i, yAxisIndex: 2 * i, data: lows[i], symbol: 'none',
    lineStyle: {color: '#222', width: 1}
  });
  series.push({
    type: 'line', xAxisIndex: 2 * i, yAxisIndex: 2 * i, data: fits[i], symbol: 'none',
    lineStyle: {color: '#f01010', width: 2.5}
  });

  graphic.push({
    type: 'text', x: i % 2 ? g.left + 14 : g.left + (i == 0 ? 127 : 10), y: g.top + 23,
    style: {text: panelTags[i], font: '20px ' + FONT, fill: '#1a1a1a', verticalAlign: 'middle'}
  });
  graphic.push({
    type: 'text', x: g.left + g.width - 5, y: g.top + g.height - 19,
    style: {text: tracerNames[i], font: '20px ' + FONT, fill: '#1a1a1a', align: 'right', verticalAlign: 'middle'}
  });
}

var myChart = echarts.init(document.getElementById('graph'));
var option = {
  backgroundColor: '#fff',
  animation: false,
  grid: grids,
  xAxis: xAxis,
  yAxis: yAxis,
  legend: {
    data: ['January', 'March'], orient: 'vertical', left: 68, top: 29,
    icon: 'circle', itemWidth: 20, itemHeight: 5, itemGap: 5,
    padding: [5, 9, 4, 7], borderColor: '#555', borderWidth: 1,
    textStyle: {fontSize: 20, color: '#1a1a1a', fontFamily: FONT}
  },
  graphic: graphic,
  series: series
};
myChart.setOption(option);
</script>
</body>
</html>
